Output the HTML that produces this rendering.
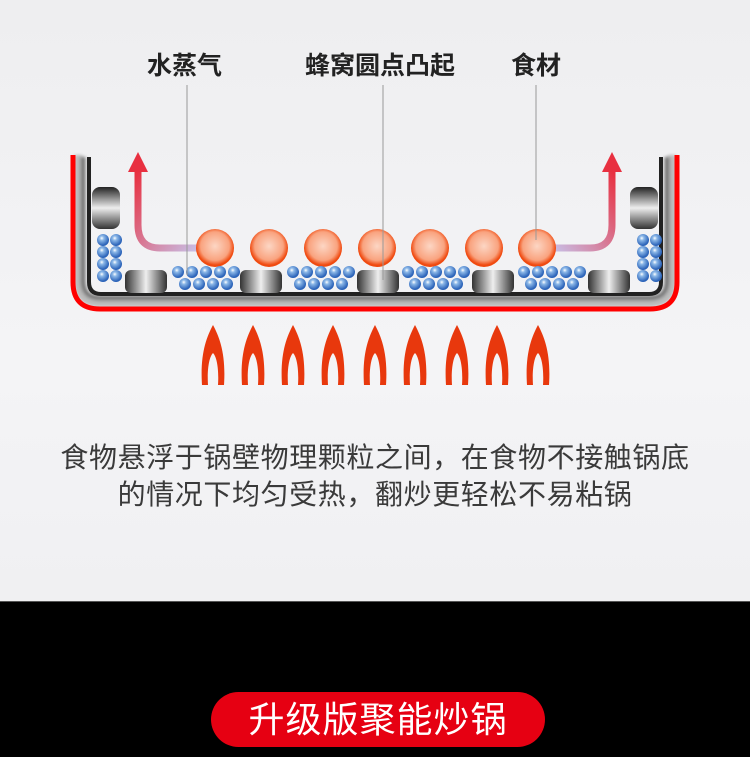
<!DOCTYPE html>
<html><head><meta charset="utf-8"><style>
html,body{margin:0;padding:0}
body{width:750px;height:757px;overflow:hidden;position:relative;background:#000;font-family:"Liberation Sans","Noto Sans CJK SC",sans-serif}
#top{position:absolute;left:0;top:0;width:750px;height:601px;background:linear-gradient(#eeeef0,#f4f4f6 60%,#f0f0f2);border-bottom:1px solid #555}
.lab{position:absolute;top:50px;font-size:25px;color:#222;font-weight:bold;line-height:32px}
.txt{position:absolute;left:0;width:750px;text-align:center;font-size:28px;color:#3a3a3a;letter-spacing:0.6px;line-height:36px}
#pill{position:absolute;left:211px;top:692px;width:334px;height:55px;border-radius:28px;background:#e60012;color:#fff;font-size:36px;text-align:center;line-height:55px;letter-spacing:1px}
</style></head><body>
<div id="top">
<svg id="s" width="750" height="601" style="position:absolute;left:0;top:0">
<defs>
<filter id="bl"><feGaussianBlur stdDeviation="1.5"/></filter>
<linearGradient id="cyl" x1="0" x2="1"><stop offset="0" stop-color="#333"/><stop offset="0.5" stop-color="#eee"/><stop offset="1" stop-color="#333"/></linearGradient>
<linearGradient id="cylv" x1="0" y1="0" x2="0" y2="1"><stop offset="0" stop-color="#222"/><stop offset="0.5" stop-color="#eee"/><stop offset="1" stop-color="#333"/></linearGradient>
<radialGradient id="ball" cx="0.5" cy="0.45" r="0.5"><stop offset="0" stop-color="#fcd6c4"/><stop offset="0.75" stop-color="#f9a37f"/><stop offset="1" stop-color="#f04a10"/></radialGradient>
<radialGradient id="bead" cx="0.4" cy="0.35" r="0.6"><stop offset="0" stop-color="#fff"/><stop offset="0.3" stop-color="#8cb8e8"/><stop offset="1" stop-color="#2a62b8"/></radialGradient>
<linearGradient id="arrL" x1="0" y1="0" x2="1" y2="1"><stop offset="0" stop-color="#e83040"/><stop offset="1" stop-color="#c8c0e8"/></linearGradient>
<linearGradient id="arrR" x1="1" y1="0" x2="0" y2="1"><stop offset="0" stop-color="#e83040"/><stop offset="1" stop-color="#c8c0e8"/></linearGradient>
</defs>
<path d="M78,155 L78,281 Q78,303 100,303 L650,303 Q672,303 672,281 L672,155" fill="none" stroke="#bbb" stroke-width="8" filter="url(#bl)"/>
<path d="M73,155 L73,282 Q73,309 100,309 L650,309 Q677,309 677,282 L677,155" fill="none" stroke="#f00" stroke-width="5"/>
<path d="M83,157 L83,281 Q83,298 100,298 L650,298 Q667,298 667,281 L667,157" fill="none" stroke="#777" stroke-width="5" filter="url(#bl)"/>
<path d="M89,157 L89,282 Q89,294 101,294 L649,294 Q661,294 661,282 L661,157" fill="none" stroke="#222" stroke-width="4"/>
<rect x="92" y="187" width="28" height="42" rx="8" fill="url(#cylv)"/>
<rect x="630" y="187" width="28" height="42" rx="8" fill="url(#cylv)"/>
<path d="M138,170 L138,225 Q138,248 160,248 L200,248" fill="none" stroke="url(#arrL)" stroke-width="7"/>
<polygon points="128,172 148,172 138,152" fill="#e83040"/>
<path d="M612,170 L612,225 Q612,248 590,248 L550,248" fill="none" stroke="url(#arrR)" stroke-width="7"/>
<polygon points="602,172 622,172 612,152" fill="#e83040"/>
<g id="g"></g>
<line x1="187" y1="85" x2="187" y2="275" stroke="#999" stroke-width="1"/>
<line x1="383" y1="85" x2="383" y2="280" stroke="#999" stroke-width="1"/>
<line x1="536" y1="85" x2="536" y2="240" stroke="#999" stroke-width="1"/>
</svg>
<div class="lab" style="left:147px">水蒸气</div>
<div class="lab" style="left:305px">蜂窝圆点凸起</div>
<div class="lab" style="left:511px">食材</div>
<div class="txt" style="top:440px">食物悬浮于锅壁物理颗粒之间，在食物不接触锅底</div>
<div class="txt" style="top:477px">的情况下均匀受热，翻炒更轻松不易粘锅</div>
</div>
<div id="pill">升级版聚能炒锅</div>
<script>
var g=document.getElementById('g'),h='';
[125,240,357,472,588].forEach(function(x){h+='<rect x="'+x+'" y="270" width="42" height="23" rx="6" fill="url(#cyl)"/>';});
[215,269,323,377,430,484,537].forEach(function(x){h+='<circle cx="'+x+'" cy="248" r="19" fill="url(#ball)"/>';});
function b(x,y){h+='<circle cx="'+x+'" cy="'+y+'" r="6" fill="url(#bead)"/>';}
[[172],[287],[402],[518]].forEach(function(a){var s=a[0]+6;for(var i=0;i<5;i++)b(s+i*14,272);for(var i=0;i<4;i++)b(s+7+i*14,284);});
[[98],[638]].forEach(function(a){var s=a[0]+5;for(var r=0;r<4;r++){b(s,240+r*12);b(s+13,240+r*12);}});
[213,253,293,333,375,415,457,497,538].forEach(function(c){
h+='<path d="M'+c+',325 C'+(c+7)+',338 '+(c+13)+',355 '+(c+11)+',385 L'+(c+5)+',385 C'+(c+6)+',370 '+(c+4)+',357 '+c+',353 C'+(c-4)+',357 '+(c-6)+',370 '+(c-5)+',385 L'+(c-11)+',385 C'+(c-13)+',355 '+(c-7)+',338 '+c+',325 Z" fill="#e8380d"/>';});
g.innerHTML=h;
</script>
</body></html>
